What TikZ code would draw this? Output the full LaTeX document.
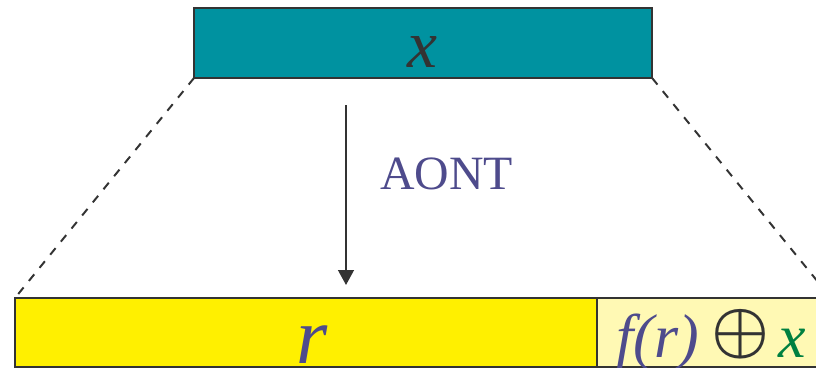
\documentclass[tikz,border=0pt]{standalone}
\usepackage{fix-cm}
\usepackage{amsmath}
\usepackage{fontspec}
\setmainfont{Liberation Serif}
\usepackage{tikz}
\usetikzlibrary{arrows.meta, calc}
\definecolor{blockteal}{RGB}{0,146,160}
\definecolor{edgegray}{RGB}{51,51,51}
\definecolor{blockyellow}{RGB}{255,240,0}
\definecolor{paleyellow}{RGB}{255,249,180}
\definecolor{labelpurple}{RGB}{78,75,140}
\definecolor{labelgreen}{RGB}{0,128,64}

\begin{document}
\begin{tikzpicture}[
    x=0.025cm, y=-0.025cm,
    arr/.style={-{Triangle[length=0.37cm, width=0.39cm]}, line width=1.4pt, draw=edgegray},
    dashline/.style={edgegray, line width=1.4pt, dash pattern=on 6pt off 6pt},
    blockbox/.style={draw=edgegray, line width=1.4pt, inner sep=0pt, outer sep=0pt,
                     anchor=north west},
    bigtext/.style={inner sep=0pt, anchor=base},
]

\useasboundingbox (0,0) rectangle (816,368);

% ════════════════════════════════════════════════════════
% 1. INPUT BLOCK x (TOP)
% ════════════════════════════════════════════════════════
\node[blockbox, fill=blockteal, minimum width=11.45cm, minimum height=1.75cm]
    (xbox) at (194,8) {};
\node[bigtext, text=edgegray, font=\fontsize{48}{50}\selectfont\itshape]
    (xlabel) at (422,67) {x};

% ════════════════════════════════════════════════════════
% 2. OUTPUT BLOCKS r AND f(r) (BOTTOM)
% ════════════════════════════════════════════════════════
\node[blockbox, fill=blockyellow, minimum width=14.55cm, minimum height=1.725cm]
    (rbox) at (15,298) {};
\node[blockbox, fill=paleyellow, minimum width=5.85cm, minimum height=1.725cm]
    (fbox) at (597,298) {};

\node[bigtext, text=labelpurple, font=\fontsize{57}{60}\selectfont\itshape]
    (rlabel) at (312,363) {r};
\node[bigtext, anchor=base west, text=labelpurple,
      font=\fontsize{44}{46}\selectfont\itshape]
    (flabel) at (616,357)
    {f(r)\hspace{0.2em}{\color{edgegray}\raisebox{0.1em}{\scalebox{1.05}{$\boldsymbol{\oplus}$}}}\hspace{0.15em}{\color{labelgreen}x}};

% ════════════════════════════════════════════════════════
% 3. CONNECTORS
% ════════════════════════════════════════════════════════
\draw[dashline] (xbox.south west) -- (rbox.north west);
\draw[dashline] (xbox.south east) -- (fbox.north east);

\coordinate (ATOP) at (346,105);
\coordinate (ABOT) at (346,285);
\draw[arr] (ATOP) -- (ABOT);

\node[bigtext, anchor=base west, text=labelpurple, font=\fontsize{34}{36}\selectfont]
    (aont) at (380,189) {AONT};

\end{tikzpicture}
\end{document}
